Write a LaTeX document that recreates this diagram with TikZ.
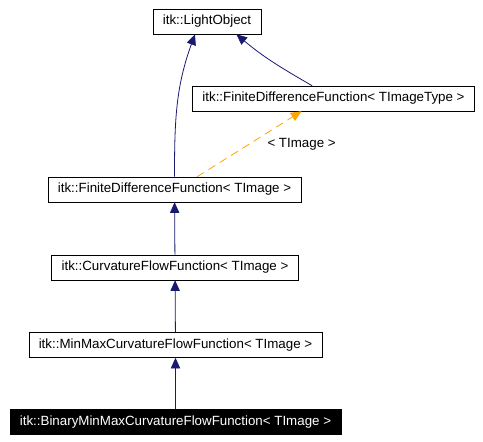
\documentclass[tikz,border=0pt]{standalone}
\usepackage{fontspec}
\setmainfont{Liberation Sans}
\usetikzlibrary{arrows.meta,positioning}

\begin{document}
\begin{tikzpicture}[
    x=0.75pt, y=0.75pt,
    cls/.style={draw, minimum height=18.75pt, inner xsep=7.5pt, inner ysep=0pt, font=\fontsize{10pt}{12pt}\selectfont},
    current/.style={cls, fill=black, text=white},
    inherit/.style={-{Triangle[length=8pt,width=7pt]}, color={rgb,255:red,25;green,25;blue,112}, semithick},
    templ/.style={-{Triangle[length=8pt,width=7pt]}, color={rgb,255:red,255;green,165;blue,0}, dash pattern=on 6pt off 4pt, semithick}
]
\useasboundingbox (0,0) rectangle (483,442);
\node[cls] (light) at (207,420.5) {itk::LightObject};
\node[cls] (fdftype) at (333.5,343.5) {itk::FiniteDifferenceFunction< TImageType >};
\node[cls] (fdf) at (174.5,252.5) {itk::FiniteDifferenceFunction< TImage >};
\node[cls] (cff) at (175,174.5) {itk::CurvatureFlowFunction< TImage >};
\node[cls] (minmax) at (175.5,97) {itk::MinMaxCurvatureFlowFunction< TImage >};
\node[current] (binary) at (175.5,20) {itk::BinaryMinMaxCurvatureFlowFunction< TImage >};
\draw[inherit] (fdf.north) to[out=90, in=-110] ([xshift=-9pt]light.south);
\draw[inherit] ([xshift=-16pt]fdftype.north) to[out=150, in=-40] ([xshift=22pt]light.south);
\draw[templ] ([xshift=17pt]fdf.north) -- node[pos=0.5, right=10pt, black, font=\fontsize{10pt}{12pt}\selectfont]{< TImage >} ([xshift=-24pt]fdftype.south);
\draw[inherit] (cff) -- (fdf);
\draw[inherit] (minmax) -- (cff);
\draw[inherit] (binary) -- (minmax);
\end{tikzpicture}
\end{document}
